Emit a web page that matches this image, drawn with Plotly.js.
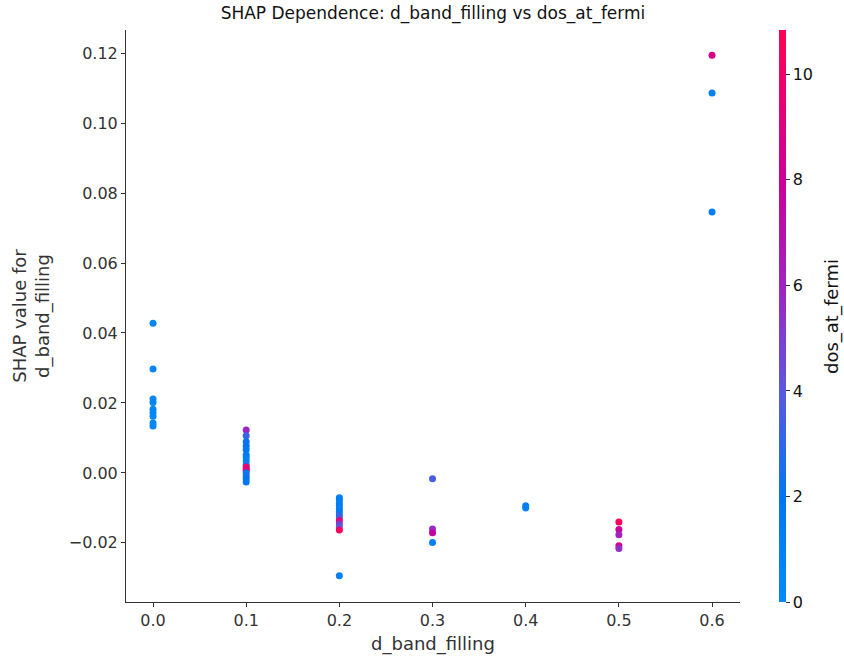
<!DOCTYPE html>
<html>
<head>
<meta charset="utf-8">
<script src="https://cdn.plot.ly/plotly-3.0.1.min.js"></script>
<style>html,body{margin:0;padding:0;background:#fff;}#chart{width:844px;height:662px;}</style>
</head>
<body>
<div id="chart"></div>
<script>
// d_band_filling feature values
const x00 = [0.0,0.0,0.0,0.0,0.0,0.0,0.0,0.0,0.0];
const y00 = [0.0428,0.0297,0.0211,0.0201,0.0182,0.0172,0.0162,0.0143,0.0134];
const c00 = [0.4,0.5,0.4,0.5,0.4,0.5,0.4,0.5,0.4];

const x01 = [0.1,0.1,0.1,0.1,0.1,0.1,0.1,0.1,0.1,0.1,0.1,0.1,0.1,0.1,0.1,0.1];
const y01 = [0.0123,0.0106,0.0089,0.0077,0.0066,0.0051,0.0043,0.0034,0.0023,0.0017,0.0011,0.0006,0.0000,-0.0009,-0.0017,-0.0026];
const c01 = [5.8,3.2,2.2,2.0,1.6,1.5,1.2,1.1,1.3,10.2,8.6,9.8,1.6,2.6,2.0,1.8];

const x02 = [0.2,0.2,0.2,0.2,0.2,0.2,0.2,0.2,0.2,0.2,0.2,0.2,0.2];
const y02 = [-0.0071,-0.0077,-0.0086,-0.0094,-0.0103,-0.0111,-0.0120,-0.0129,-0.0137,-0.0146,-0.0154,-0.0163,-0.0294];
const c02 = [1.0,1.1,1.0,1.2,1.0,1.3,2.8,3.4,9.5,5.0,4.0,10.5,1.0];

const x03 = [0.3,0.3,0.3,0.3];
const y03 = [-0.0017,-0.0160,-0.0171,-0.0199];
const c03 = [3.6,5.6,7.6,1.0];

const x04 = [0.4,0.4];
const y04 = [-0.0094,-0.0100];
const c04 = [1.0,1.0];

const x05 = [0.5,0.5,0.5,0.5,0.5];
const y05 = [-0.0140,-0.0162,-0.0177,-0.0208,-0.0216];
const c05 = [10.5,8.0,6.0,8.6,5.6];

const x06 = [0.6,0.6,0.6];
const y06 = [0.1194,0.1086,0.0746];
const c06 = [8.6,1.0,1.2];

const xTicks = [0.0,0.1,0.2,0.3,0.4,0.5,0.6];
const yTicks = [-0.02,0.00,0.02,0.04,0.06,0.08,0.10,0.12];
const cTicks = [0,2,4,6,8,10];

const xs = [].concat(x00,x01,x02,x03,x04,x05,x06);
const ys = [].concat(y00,y01,y02,y03,y04,y05,y06);
const cs = [].concat(c00,c01,c02,c03,c04,c05,c06);

const shapRedBlue = [
  [0.0,'rgb(0,139,250)'],
  [0.18,'rgb(0,118,242)'],
  [0.37,'rgb(92,88,224)'],
  [0.55,'rgb(160,35,192)'],
  [0.74,'rgb(203,0,152)'],
  [0.9,'rgb(238,0,108)'],
  [1.0,'rgb(255,0,82)']
];

const font = 'DejaVu Sans, sans-serif';
const ink = '#333333';

const trace = {
  type: 'scatter', mode: 'markers',
  x: xs, y: ys,
  marker: {
    size: 7, color: cs, colorscale: shapRedBlue, cmin: 0, cmax: 10.84,
    line: {width: 0},
    showscale: true,
    colorbar: {
      x: 1.0635, xanchor: 'left', xpad: 0, y: 0, yanchor: 'bottom', ypad: 0, len: 1, lenmode: 'fraction',
      thickness: 7, outlinewidth: 0,
      tickvals: cTicks, ticktext: cTicks.map(String),
      ticks: 'outside', ticklen: 4, tickcolor: ink, tickwidth: 1,
      tickfont: {family: font, size: 16, color: '#111'}
    }
  },
  hoverinfo: 'skip'
};

const layout = {
  width: 844, height: 662,
  margin: {l: 126, r: 104, t: 30, b: 60},
  paper_bgcolor: '#fff', plot_bgcolor: '#fff',
  showlegend: false,
  title: {text: 'SHAP Dependence: d_band_filling vs dos_at_fermi', x: 0.513, xanchor: 'center', y: 0.98, yanchor: 'middle',
          font: {family: font, size: 17, color: '#111'}},
  xaxis: {
    range: [-0.029, 0.63], showgrid: false, zeroline: false,
    showline: true, linecolor: ink, linewidth: 1,
    tickvals: xTicks, ticktext: xTicks.map(v => v.toFixed(1)),
    ticks: 'outside', ticklen: 4, tickcolor: ink,
    tickfont: {family: font, size: 16, color: ink},
    title: {text: 'd_band_filling', font: {family: font, size: 18, color: ink}, standoff: 8}
  },
  yaxis: {
    range: [-0.0369, 0.1266], showgrid: false, zeroline: false,
    showline: true, linecolor: ink, linewidth: 1,
    tickvals: yTicks, ticktext: yTicks.map(v => (v < 0 ? '\u2212' : '') + Math.abs(v).toFixed(2)),
    ticks: 'outside', ticklen: 4, tickcolor: ink,
    tickfont: {family: font, size: 16, color: ink},
    title: {text: 'SHAP value for<br>d_band_filling', font: {family: font, size: 18, color: ink}, standoff: 14}
  },
  annotations: [{
    text: 'dos_at_fermi', xref: 'paper', yref: 'paper', x: 1.1498, y: 0.5,
    xanchor: 'center', yanchor: 'middle', textangle: -90, showarrow: false,
    font: {family: font, size: 18, color: '#111'}
  }]
};

Plotly.newPlot('chart', [trace], layout, {displayModeBar: false, staticPlot: true});
</script>
</body>
</html>
